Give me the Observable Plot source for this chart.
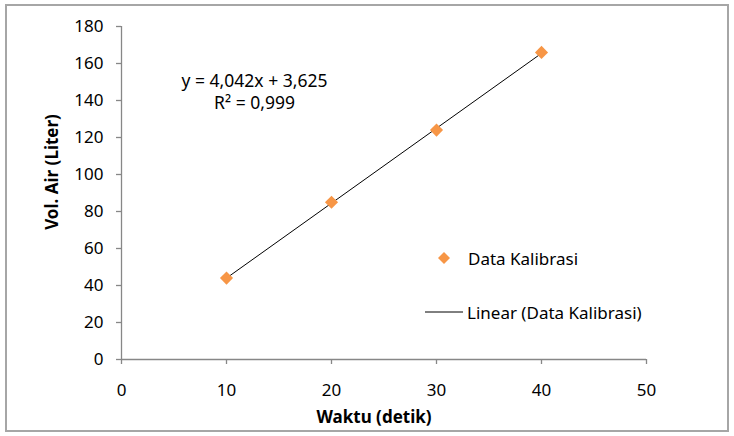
<!DOCTYPE html>
<html>
<head>
<meta charset="utf-8">
<script src="https://cdn.jsdelivr.net/npm/d3@7"></script>
<script src="https://cdn.jsdelivr.net/npm/@observablehq/plot@0.6"></script>
<style>
  html, body { margin: 0; padding: 0; background: #fff; }
  #wrap { position: relative; width: 734px; height: 436px; font-family: "Noto Sans", sans-serif; }
  #border { position: absolute; left: 5px; top: 4px; width: 720px; height: 424px; border: 2px solid #a6a6a6; pointer-events: none; }
  #legend { position: absolute; left: 424px; top: 246px; font-size: 17px; color: #000; }
  .leg-row { display: flex; align-items: center; height: 24px; }
</style>
</head>
<body>
<div id="wrap">
  <div id="chart"></div>
  <div id="border"></div>
  <div id="legend"></div>
</div>
<script>
// Data
const waktu = [10, 20, 30, 40];          // x: Waktu (detik)
const volume = [44, 85, 124, 166];       // y: Vol. Air (Liter)
const xTicks = [0, 10, 20, 30, 40, 50];
const yTicks = [0, 20, 40, 60, 80, 100, 120, 140, 160, 180];
const equationLines = ["y = 4,042x + 3,625", "R² = 0,999"];
const seriesName = "Data Kalibrasi";
const trendName = "Linear (Data Kalibrasi)";
const xTitle = "Waktu (detik)";
const yTitle = "Vol. Air (Liter)";

const data = waktu.map((x, i) => ({x, y: volume[i]}));
const orange = "#F79646";
const axisGray = "#878787";
const fontSize = 17;

const chart = Plot.plot({
  width: 734,
  height: 436,
  marginLeft: 121,
  marginRight: 88,
  marginTop: 26,
  marginBottom: 77,
  style: {fontFamily: "'Noto Sans', sans-serif", fontSize: fontSize + "px", background: "transparent", overflow: "visible"},
  x: {domain: [0, 50]},
  y: {domain: [0, 180]},
  marks: [
    Plot.ruleY([0], {stroke: axisGray, strokeWidth: 1.3}),
    Plot.ruleX([0], {stroke: axisGray, strokeWidth: 1.3}),
    Plot.axisX({ticks: xTicks, tickSize: 5, tickPadding: 19, stroke: axisGray, strokeWidth: 1.3, fill: "#000", label: null, fontSize: fontSize + "px", tickFormat: d => String(d)}),
    Plot.axisY({ticks: yTicks, tickSize: 5, tickPadding: 13, stroke: axisGray, strokeWidth: 1.3, fill: "#000", label: null, fontSize: fontSize + "px", tickFormat: d => String(d)}),
    Plot.linearRegressionY(data, {x: "x", y: "y", ci: 0, stroke: "#000", strokeWidth: 1}),
    Plot.dot(data, {x: "x", y: "y", symbol: "diamond2", r: 5.9, fill: orange, stroke: "none"}),
    Plot.text([equationLines.join("\n")], {frameAnchor: "top-left", dx: 133, dy: 45, text: d => d, textAnchor: "middle", lineAnchor: "top", lineHeight: 1.25, fontSize: "17.5px", fill: "#000"}),
    Plot.text([xTitle], {frameAnchor: "bottom", dx: -10, dy: 63, text: d => d, fontWeight: "bold", fontSize: fontSize + "px", fill: "#000"}),
    Plot.text([yTitle], {frameAnchor: "left", dx: -69, dy: -21, rotate: -90, textAnchor: "middle", lineAnchor: "middle", text: d => d, fontWeight: "bold", fontSize: fontSize + "px", fill: "#000"})
  ]
});
document.getElementById("chart").appendChild(chart);

// Legend
const legend = document.getElementById("legend");
legend.innerHTML = `
  <div class="leg-row" style="margin-left:10px">
    <svg width="24" height="14"><path d="M10,1 L16,7 L10,13 L4,7 Z" fill="${orange}"/></svg>
    <span style="margin-left:10px">${seriesName}</span>
  </div>
  <div class="leg-row" style="margin-top:30px">
    <svg width="40" height="4"><line x1="1" x2="39" y1="2" y2="2" stroke="#000" stroke-width="1"/></svg>
    <span style="margin-left:3px">${trendName}</span>
  </div>`;
</script>
</body>
</html>
